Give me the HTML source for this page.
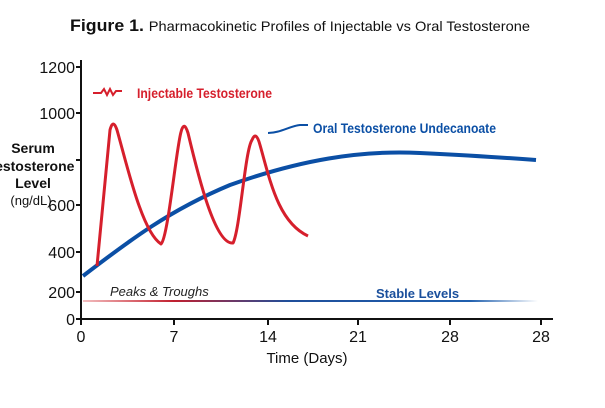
<!DOCTYPE html>
<html><head><style>
body{margin:0;background:#fff;width:605px;height:403px;overflow:hidden;font-family:"Liberation Sans",sans-serif}
</style></head><body>
<svg width="605" height="403" viewBox="0 0 605 403">
<defs><linearGradient id="g" x1="0" x2="1"><stop offset="0" stop-color="#d2232a" stop-opacity="0.3"/><stop offset="0.2" stop-color="#c02030"/><stop offset="0.45" stop-color="#1f4e9a"/><stop offset="0.85" stop-color="#1f5fae"/><stop offset="1" stop-color="#1f5fae" stop-opacity="0"/></linearGradient></defs>
<text x="300" y="31" text-anchor="middle" font-size="17" fill="#111" font-weight="bold" textLength="460" lengthAdjust="spacingAndGlyphs">Figure 1. <tspan font-size="14" font-weight="normal">Pharmacokinetic Profiles of Injectable vs Oral Testosterone</tspan></text>
<g stroke="#111" stroke-width="2" fill="none">
<path d="M81 60 V319 H553"/>
<path d="M76 67h5M76 113h5M76 160h5M76 205h5M76 252h5M76 292h5M76 319h5"/>
<path d="M81 319v6M174 319v6M268 319v6M358 319v6M450 319v6M541 319v6"/>
</g>
<g font-size="16" fill="#111" text-anchor="end">
<text x="75" y="73">1200</text><text x="75" y="119">1000</text><text x="75" y="211">600</text><text x="75" y="258">400</text><text x="75" y="298">200</text><text x="75" y="325">0</text>
</g>
<g font-size="16" fill="#111" text-anchor="middle">
<text x="81" y="342">0</text><text x="174" y="342">7</text><text x="268" y="342">14</text><text x="358" y="342">21</text><text x="450" y="342">28</text><text x="541" y="342">28</text>
<text x="307" y="363" font-size="15">Time (Days)</text>
</g>
<g font-size="14" font-weight="bold" fill="#111" text-anchor="middle">
<text x="33" y="153">Serum</text><text x="31" y="171">Testosterone</text><text x="33" y="188">Level</text>
<text x="31" y="205" font-weight="normal" font-size="13">(ng/dL)</text>
</g>
<rect x="83" y="300" width="455" height="2" fill="url(#g)"/>
<text x="110" y="296" font-size="13" font-style="italic" fill="#222">Peaks &amp; Troughs</text>
<text x="376" y="298" font-size="13" font-weight="bold" fill="#1a4f9c">Stable Levels</text>
<path d="M83 276 C130 240 170 210 230 185 C300 160 360 150 420 153 C480 156 510 158 536 160" stroke="#0b4fa5" stroke-width="4" fill="none"/>
<path d="M97 266 L110 130 Q113 118 117 130 C127 165 142 232 161 244 C168 238 176 150 181 132 Q184 120 188 133 C198 175 215 245 233 243 C240 230 245 150 252 140 Q256 130 260 145 C270 180 278 222 308 236" stroke="#d61f2c" stroke-width="3" fill="none" stroke-linejoin="round"/>
<path d="M93 93 h8 l3 -4 l3 6 l3 -6 l3 6 l3 -4 h6" stroke="#d61f2c" stroke-width="2" fill="none"/>
<text x="137" y="98" font-size="14" font-weight="bold" fill="#d61f2c" textLength="135" lengthAdjust="spacingAndGlyphs">Injectable Testosterone</text>
<path d="M268 133 C280 133 290 126 300 125 h8" stroke="#0b4fa5" stroke-width="2" fill="none"/>
<text x="313" y="133" font-size="14" font-weight="bold" fill="#0b4fa5" textLength="183" lengthAdjust="spacingAndGlyphs">Oral Testosterone Undecanoate</text>
</svg>
</body></html>
